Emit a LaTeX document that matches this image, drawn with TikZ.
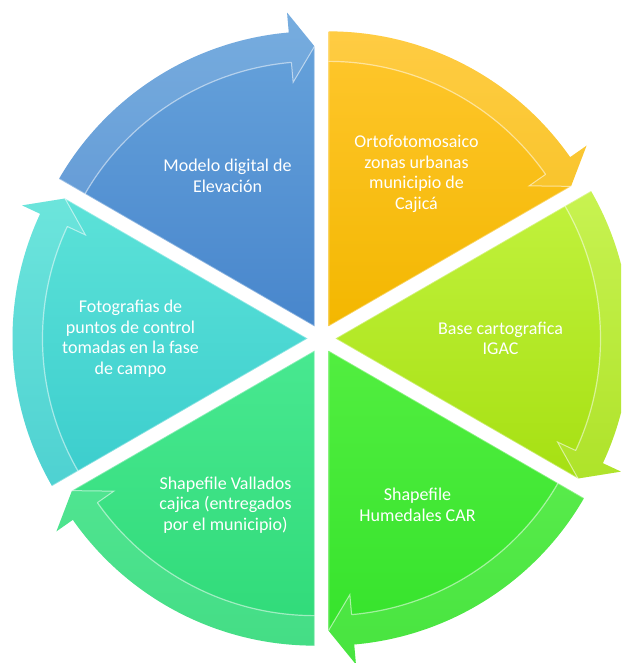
\documentclass[tikz,border=0pt]{standalone}
\usepackage{fontspec}
\setmainfont{Carlito}
\usetikzlibrary{calc}
\definecolor{orgT}{HTML}{FFC72E}
\definecolor{orgB}{HTML}{F3B700}
\definecolor{limT}{HTML}{C2F23E}
\definecolor{limB}{HTML}{A6E012}
\definecolor{grnT}{HTML}{52EE40}
\definecolor{grnB}{HTML}{33E22A}
\definecolor{seaT}{HTML}{48E890}
\definecolor{seaB}{HTML}{2FDA78}
\definecolor{cyaT}{HTML}{5CE2D8}
\definecolor{cyaB}{HTML}{3BCDCD}
\definecolor{bluT}{HTML}{68A4DC}
\definecolor{bluB}{HTML}{4886CC}

\begin{document}
\begin{tikzpicture}[x=1pt,y=1pt,
  seglabel/.style={font=\fontsize{18}{20.5}\selectfont,text=white,align=center}]
  \useasboundingbox (-321.5,-324.5) rectangle (299.5,338.5);
  \clip (-321.5,-324.5) rectangle (299.5,338.5);

  % segments with their rim arrows, clockwise from the top
  \foreach \s/\ca/\cb in {90/orgT/orgB, 30/limT/limB, -30/grnT/grnB, -90/seaT/seaB, -150/cyaT/cyaB, 150/bluT/bluB} {
    \pgfmathsetmacro{\e}{\s-60}
    \pgfmathsetmacro{\eb}{\s-55}
    \begin{scope}[shift={(\s-30:14)}]
      \shade[top color=\ca,bottom color=\cb] (0,0) -- (\s:295)
        arc[start angle=\s,end angle=\eb,radius=295] -- (\eb:315) -- (\e:280) -- cycle;
      \fill[white,opacity=0.1] (\s:265) -- (\s:295)
        arc[start angle=\s,end angle=\eb,radius=295] -- (\eb:315) -- (\e:280)
        -- (\eb:245) -- (\eb:265) arc[start angle=\eb,end angle=\s,radius=265] -- cycle;
      \draw[white,opacity=0.5,line width=1.2] (\eb:265)
        arc[start angle=\eb,end angle=\s,radius=265];
      \draw[white,opacity=0.55,line width=1] (\eb:265) -- (\eb:245) -- (\e:280);
      \draw[white,opacity=0.35,line width=1.5] (\s:295) -- (0,0) -- (\e:280);
    \end{scope}
  }

  % labels
  \node[seglabel] (orto) at (60:190) {Ortofotomosaico\\zonas urbanas\\municipio de\\Cajicá};
  \node[seglabel] (base) at (0:179) {Base cartografica\\IGAC};
  \node[seglabel] (humedal) at (-60:192) {Shapefile\\Humedales CAR};
  \node[seglabel] (vallado) at (-120:192) {Shapefile Vallados\\cajica (entregados\\por el municipio)};
  \node[seglabel] (foto) at (180:191) {Fotografias de\\puntos de control\\tomadas en la fase\\de campo};
  \node[seglabel] (modelo) at (120:188) {Modelo digital de\\Elevación};
\end{tikzpicture}
\end{document}
